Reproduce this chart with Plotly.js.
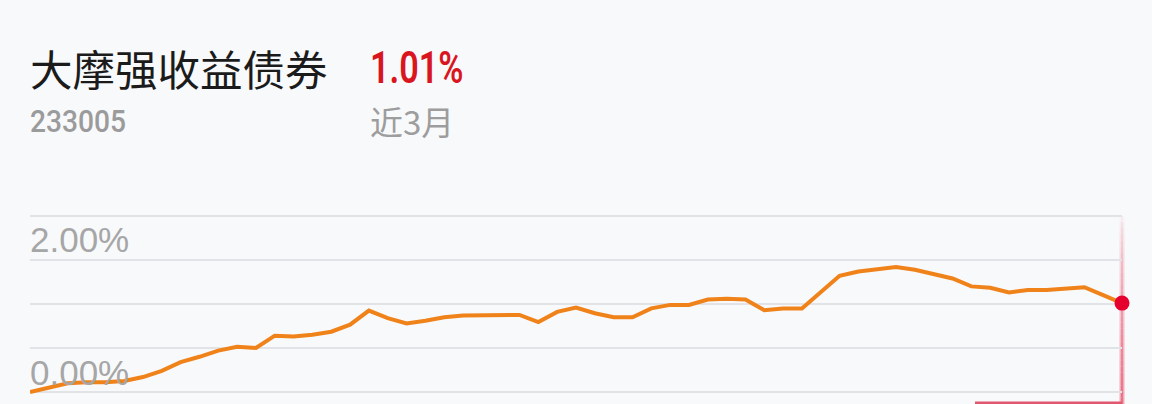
<!DOCTYPE html>
<html>
<head>
<meta charset="utf-8">
<script src="https://cdn.plot.ly/plotly-3.0.1.min.js"></script>
<style>
  html, body { margin: 0; padding: 0; background: #f8f9fb; }
  #chart { width: 1152px; height: 404px; }
</style>
</head>
<body>
<div id="chart"></div>
<script>
// ---- data ----
const fundName = "大摩强收益债券";
const fundCode = "233005";
const periodLabel = "近3月";
const periodReturnLabel = "1.01%";
const yTickLabels = ["2.00%", "0.00%"];
const yTickValues = [2.0, 0.0];
// cumulative return (%) per trading day over the last 3 months
const returns = [
  0.00, 0.05, 0.10, 0.11, 0.11, 0.125, 0.17, 0.24, 0.34, 0.40,
  0.47, 0.515, 0.50, 0.64, 0.63, 0.65, 0.685, 0.765, 0.925, 0.84,
  0.78, 0.81, 0.85, 0.87, 0.875, 0.875, 0.875, 0.795, 0.91, 0.96,
  0.895, 0.85, 0.85, 0.95, 0.99, 0.99, 1.05, 1.06, 1.05, 0.93,
  0.95, 0.95, 1.14, 1.32, 1.37, 1.39, 1.42, 1.39, 1.34, 1.29,
  1.20, 1.185, 1.13, 1.16, 1.16, 1.17, 1.19, 1.10, 1.01
];
const days = returns.map((_, i) => i);

// ---- layout helpers (pixel -> paper) ----
const W = 1152, H = 404;
const M = { l: 30, r: 30, t: 200, b: 0 };
const PW = W - M.l - M.r, PH = H - M.t - M.b;
const ax = px => (px - M.l) / PW;
const ay = py => (H - M.b - py) / PH;
const pxPerUnit = 88;

const xRange = [days[0], days[days.length - 1]];
const lastX = days[days.length - 1];
const lastY = returns[returns.length - 1];
const lastXPaper = (lastX - xRange[0]) / (xRange[1] - xRange[0]);

const traces = [
  {
    x: days, y: returns, type: "scatter", mode: "lines",
    line: { color: "#f0821a", width: 4, shape: "linear" },
    hoverinfo: "skip", cliponaxis: false
  },
  {
    x: [lastX], y: [lastY], type: "scatter", mode: "markers",
    marker: { color: "#e6002e", size: 15 },
    hoverinfo: "skip", cliponaxis: false
  }
];

// vertical indicator at the last point, with a fading gradient
const shapes = [];
const N = 30, yTop = 216, yBot = 404;
for (let i = 0; i < N; i++) {
  const y0 = yTop + (yBot - yTop) * i / N;
  const y1 = yTop + (yBot - yTop) * (i + 1) / N;
  const t = i / (N - 1);
  const a = 0.05 + 0.6 * Math.pow(t, 0.8);
  shapes.push({
    type: "line", xref: "paper", yref: "paper", layer: "below",
    x0: lastXPaper, x1: lastXPaper, y0: ay(y0), y1: ay(y1),
    line: { color: `rgba(238,120,140,${a.toFixed(3)})`, width: 5 }
  });
  shapes.push({
    type: "line", xref: "paper", yref: "paper", layer: "below",
    x0: lastXPaper, x1: lastXPaper, y0: ay(y0), y1: ay(y1),
    line: { color: `rgba(224,70,98,${Math.min(1, a * 1.1).toFixed(3)})`, width: 1.5 }
  });
}
shapes.push({
  type: "rect", xref: "paper", yref: "paper", layer: "above",
  x0: ax(975), x1: lastXPaper, y0: ay(404), y1: ay(401.5),
  fillcolor: "#e05870", line: { width: 0 }
});

const annotations = [
  { text: fundName, x: ax(28), y: ay(67), xref: "paper", yref: "paper",
    xanchor: "left", yanchor: "middle", showarrow: false,
    font: { family: "Noto Sans CJK SC", size: 42.5, color: "#1b1b1b" } },
  { text: periodReturnLabel, x: ax(368), y: ay(67), xref: "paper", yref: "paper",
    xanchor: "left", yanchor: "middle", showarrow: false,
    font: { family: "Roboto", size: 45, weight: 600, color: "#d9151e" } },
  { text: fundCode, x: ax(28), y: ay(121), xref: "paper", yref: "paper",
    xanchor: "left", yanchor: "middle", showarrow: false,
    font: { family: "Roboto", size: 32, weight: 500, color: "#9b9b9b" } },
  { text: periodLabel, x: ax(368), y: ay(121), xref: "paper", yref: "paper",
    xanchor: "left", yanchor: "middle", showarrow: false,
    font: { family: "Noto Sans CJK SC", size: 33, color: "#9d9d9d" } },
  { text: yTickLabels[0], x: ax(28), y: ay(239), xref: "paper", yref: "paper",
    xanchor: "left", yanchor: "middle", showarrow: false,
    font: { family: "Liberation Sans", size: 35, color: "#a6a6a6" } },
  { text: yTickLabels[1], x: ax(28), y: ay(372), xref: "paper", yref: "paper",
    xanchor: "left", yanchor: "middle", showarrow: false,
    font: { family: "Liberation Sans", size: 35, color: "#a6a6a6" } }
];

const layout = {
  width: W, height: H,
  margin: M,
  paper_bgcolor: "#f8f9fb", plot_bgcolor: "rgba(0,0,0,0)",
  showlegend: false,
  xaxis: {
    range: xRange, showgrid: false, zeroline: false,
    showticklabels: false, showline: false, ticks: "", fixedrange: true
  },
  yaxis: {
    range: [-(H - M.b - 392) / pxPerUnit, 2 + (216 - M.t) / pxPerUnit],
    tick0: 0, dtick: 0.5, showgrid: true, gridcolor: "#e2e3e6", gridwidth: 1.5,
    zeroline: false, showticklabels: false, showline: false, ticks: "", fixedrange: true
  },
  shapes: shapes,
  annotations: annotations
};

// horizontally condense the numeric header labels (the reference uses a condensed face)
function condense() {
  const scales = { 1: 0.76, 2: 0.88 };
  document.querySelectorAll("#chart .annotation").forEach(g => {
    const idx = +g.getAttribute("data-index");
    if (scales[idx]) {
      g.querySelectorAll("text").forEach(t => {
        t.style.transformBox = "fill-box";
        t.style.transformOrigin = "left center";
        t.style.transform = `scaleX(${scales[idx]})`;
      });
    }
  });
}

Plotly.newPlot("chart", traces, layout, { staticPlot: true, displayModeBar: false }).then(condense);
</script>
</body>
</html>
